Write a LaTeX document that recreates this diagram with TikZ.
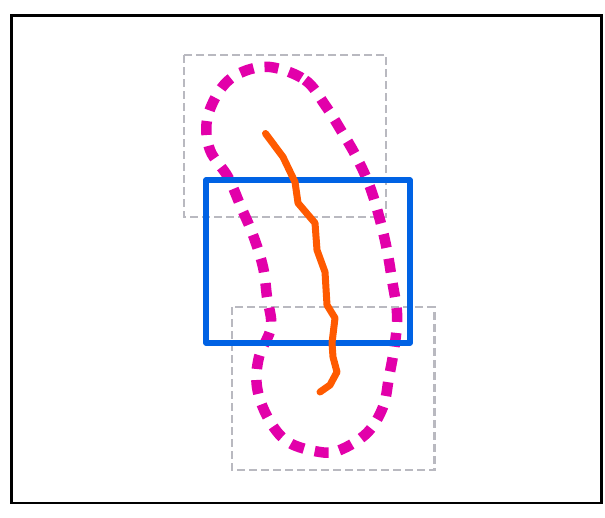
\documentclass[tikz,border=0pt]{standalone}
\definecolor{mag}{RGB}{226,0,170}
\definecolor{org}{RGB}{255,90,0}
\definecolor{blu}{RGB}{0,98,228}
\definecolor{gry}{RGB}{185,185,192}
\tikzset{
  frame/.style={draw=black,line width=2.2pt},
  grayrect/.style={draw=gry,line width=2.2pt,dash pattern=on 8pt off 4pt},
  bluerect/.style={draw=blu,line width=5.5pt,line join=round},
  orangepath/.style={draw=org,line width=7pt,line cap=round,line join=round},
  magcurve/.style={draw=mag,line width=10.5pt,dash pattern=on 14pt off 11pt},
}
\begin{document}
\begin{tikzpicture}[x=1pt,y=-1pt]
\useasboundingbox (0,0) rectangle (605,517);
\draw[frame] (11.5,15.5) rectangle (601.5,503);
\draw[grayrect] (184,55) rectangle (386,217);
\draw[grayrect] (232,307) rectangle (434.5,470);
\draw[magcurve] plot[smooth cycle,tension=0.6] coordinates {
 (270,67) (305,80) (325,105) (342,132) (357,158) (370,187) (380,220)
 (387,250) (392,280) (397,313) (395,343) (389,377) (383,407) (367,433)
 (340,450) (320,452) (288,442) (268,418) (257,387) (259,357) (271,327)
 (267,297) (263,267) (253,235) (241,207) (228,177) (210,150) (207,120)
 (220,90) (240,73)};
\draw[bluerect] (206,180) rectangle (410,343);
\draw[orangepath] (265.5,133.5) -- (283,157) -- (295,182) -- (298,203) -- (315,223) -- (317,250) -- (325,272) -- (327,305) -- (335,318) -- (332,343) -- (333,357) -- (337,372) -- (330,385) -- (320,392);
\end{tikzpicture}
\end{document}
